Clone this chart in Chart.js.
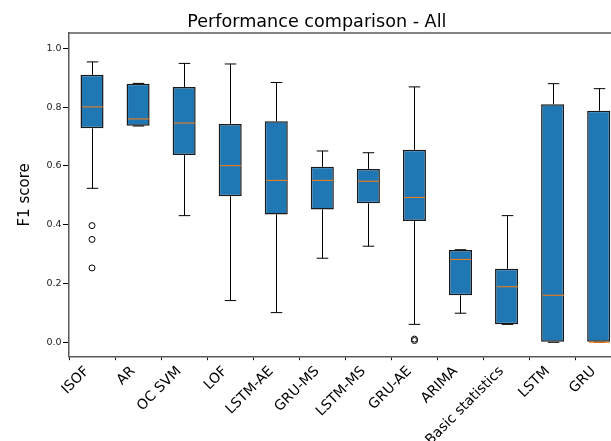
<!DOCTYPE html>
<html>
<head>
<meta charset="utf-8">
<script src="https://cdn.jsdelivr.net/npm/chart.js@4.4.1/dist/chart.umd.min.js"></script>
<style>
  html, body { margin: 0; padding: 0; background: #fff; overflow: hidden; }
  #wrap { width: 690px; height: 441px; }
</style>
</head>
<body>
<div id="wrap"><canvas id="c" width="690" height="441"></canvas></div>
<script>
// Methods compared
const categories = ['ISOF', 'AR', 'OC SVM', 'LOF', 'LSTM-AE', 'GRU-MS', 'LSTM-MS', 'GRU-AE', 'ARIMA', 'Basic statistics', 'LSTM', 'GRU'];

// Five-number summaries of F1 score per method
const whiskerLow  = [0.524, 0.736, 0.431, 0.142, 0.101, 0.286, 0.327, 0.061, 0.099, 0.061, 0.000, 0.000];
const q1          = [0.728, 0.737, 0.637, 0.497, 0.435, 0.452, 0.473, 0.413, 0.160, 0.061, 0.000, 0.000];
const medians     = [0.801, 0.760, 0.746, 0.601, 0.551, 0.551, 0.548, 0.493, 0.282, 0.189, 0.160, 0.000];
const q3          = [0.910, 0.880, 0.869, 0.743, 0.752, 0.597, 0.590, 0.655, 0.314, 0.250, 0.810, 0.788];
const whiskerHigh = [0.954, 0.881, 0.949, 0.947, 0.884, 0.651, 0.645, 0.869, 0.315, 0.431, 0.880, 0.863];

// Points beyond the whiskers
const outlierCategory = ['ISOF', 'ISOF', 'ISOF', 'GRU-AE', 'GRU-AE'];
const outlierValue    = [0.397, 0.350, 0.253, 0.011, 0.006];

// Y axis ticks and range
const yTicks = [0.0, 0.2, 0.4, 0.6, 0.8, 1.0];
const yMin = -0.049;
const yMax = 1.052;

const BOX_FILL = '#1f77b4';
const MEDIAN = '#ff7f0e';
const SPINE = '#5a5a5a';

// Whiskers, caps, medians and the top/right frame lines
const boxExtras = {
  id: 'boxExtras',
  afterDatasetsDraw(chart) {
    const ctx = chart.ctx;
    const x = chart.scales.x;
    const y = chart.scales.y;
    const meta = chart.getDatasetMeta(0);
    ctx.save();
    categories.forEach((cat, i) => {
      const bar = meta.data[i];
      const half = bar.width / 2;
      const cx = Math.round(x.getPixelForValue(i)) + 0.5;
      const pLo = y.getPixelForValue(whiskerLow[i]);
      const pQ1 = y.getPixelForValue(q1[i]);
      const pQ3 = y.getPixelForValue(q3[i]);
      const pHi = y.getPixelForValue(whiskerHigh[i]);
      const pMed = y.getPixelForValue(medians[i]);
      ctx.strokeStyle = '#000';
      ctx.lineWidth = 1;
      ctx.beginPath();
      ctx.moveTo(cx, pQ1); ctx.lineTo(cx, pLo);
      ctx.moveTo(cx, pQ3); ctx.lineTo(cx, pHi);
      ctx.moveTo(cx - half / 2, pLo); ctx.lineTo(cx + half / 2, pLo);
      ctx.moveTo(cx - half / 2, pHi); ctx.lineTo(cx + half / 2, pHi);
      ctx.stroke();
      ctx.strokeStyle = MEDIAN;
      ctx.beginPath();
      ctx.moveTo(cx - half + 1, pMed); ctx.lineTo(cx + half - 1, pMed);
      ctx.stroke();
    });
    const a = chart.chartArea;
    ctx.strokeStyle = SPINE;
    ctx.lineWidth = 1.5;
    ctx.beginPath();
    ctx.moveTo(a.left, a.top); ctx.lineTo(a.right, a.top); ctx.lineTo(a.right, a.bottom);
    ctx.stroke();
    ctx.restore();
  }
};

Chart.defaults.font.family = "'DejaVu Sans', sans-serif";
Chart.defaults.color = '#222';

new Chart(document.getElementById('c'), {
  type: 'bar',
  data: {
    labels: categories,
    datasets: [
      {
        type: 'bar',
        data: categories.map((_, i) => [q1[i], q3[i]]),
        backgroundColor: BOX_FILL,
        borderColor: '#1a1a1a',
        borderWidth: 1.5,
        borderSkipped: false,
        categoryPercentage: 1.0,
        barPercentage: 0.5,
        order: 2
      },
      {
        type: 'line',
        data: outlierCategory.map((c, i) => ({ x: c, y: outlierValue[i] })),
        showLine: false,
        pointStyle: 'circle',
        pointRadius: 3,
        pointBorderWidth: 1,
        pointBorderColor: '#000',
        pointBackgroundColor: 'rgba(0,0,0,0)',
        order: 1
      }
    ]
  },
  options: {
    responsive: false,
    animation: false,
    devicePixelRatio: 1,
    layout: { padding: { left: 12, right: 68.3, top: 0, bottom: 0 } },
    plugins: {
      legend: { display: false },
      tooltip: { enabled: false },
      title: {
        display: true,
        text: 'Performance comparison - All',
        color: '#000',
        font: { size: 17.6, weight: 'normal', lineHeight: 1.2 },
        padding: { top: 12, bottom: 0 }
      }
    },
    scales: {
      x: {
        type: 'category',
        offset: true,
        grid: { display: true, drawOnChartArea: false, drawTicks: true, tickLength: 3.5, color: '#000' },
        border: { display: true, color: SPINE, width: 1.5 },
        ticks: {
          autoSkip: false,
          minRotation: 45,
          maxRotation: 45,
          padding: 3,
          labelOffset: -5,
          color: '#000',
          font: { size: 14 }
        },
        afterFit(scale) { scale.height = 84.3; }
      },
      y: {
        min: yMin,
        max: yMax,
        grid: { display: true, drawOnChartArea: false, drawTicks: true, tickLength: 6, color: '#000' },
        border: { display: true, color: SPINE, width: 1.5 },
        ticks: {
          padding: 1.5,
          color: '#222',
          font: { size: 9.5 },
          callback: (v) => Number(v).toFixed(1)
        },
        afterBuildTicks(scale) { scale.ticks = yTicks.map(v => ({ value: v })); },
        title: {
          display: true,
          text: 'F1 score',
          color: '#000',
          font: { size: 15, lineHeight: 1.2 },
          padding: { top: 4, bottom: 4 }
        },
        afterFit(scale) { scale.width = 57; }
      }
    }
  },
  plugins: [boxExtras]
});
</script>
</body>
</html>
